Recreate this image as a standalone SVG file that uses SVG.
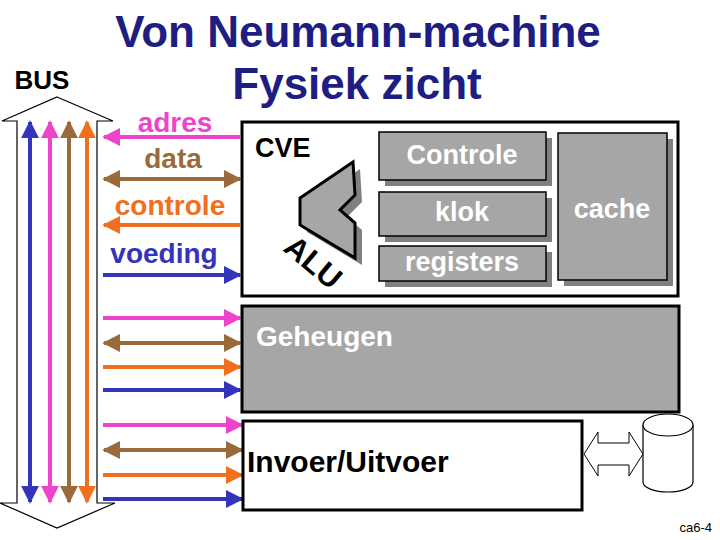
<svg xmlns="http://www.w3.org/2000/svg" width="720" height="540" viewBox="0 0 720 540">
<style>
text{font-family:"Liberation Sans",Arial,sans-serif;font-weight:bold}
.t{fill:#1e1e82;font-size:44px;text-anchor:middle}
.lbl{font-size:28px;text-anchor:middle}
.gb{fill:#a6a6a6;stroke:#000;stroke-width:1.5}
.sh{fill:#808080}
.wt{fill:#fff;font-size:27px;text-anchor:middle}
.p{stroke:#ee44cc;stroke-width:4}
.b{stroke:#9a6a3a;stroke-width:4}
.o{stroke:#f07020;stroke-width:4}
.v{stroke:#3333bb;stroke-width:4}
</style>
<defs>
<marker id="mp" viewBox="0 0 10 10" refX="9" refY="5" markerWidth="4.5" markerHeight="4.5" orient="auto-start-reverse"><path d="M0,0L10,5L0,10z" fill="#ee44cc"/></marker>
<marker id="mb" viewBox="0 0 10 10" refX="9" refY="5" markerWidth="4.5" markerHeight="4.5" orient="auto-start-reverse"><path d="M0,0L10,5L0,10z" fill="#9a6a3a"/></marker>
<marker id="mo" viewBox="0 0 10 10" refX="9" refY="5" markerWidth="4.5" markerHeight="4.5" orient="auto-start-reverse"><path d="M0,0L10,5L0,10z" fill="#f07020"/></marker>
<marker id="mv" viewBox="0 0 10 10" refX="9" refY="5" markerWidth="4.5" markerHeight="4.5" orient="auto-start-reverse"><path d="M0,0L10,5L0,10z" fill="#3333bb"/></marker>
</defs>
<rect width="720" height="540" fill="#fff"/>
<text class="t" x="358" y="47">Von Neumann-machine</text>
<text class="t" x="357" y="99">Fysiek zicht</text>
<text x="42" y="89" font-size="26" text-anchor="middle">BUS</text>

<g id="bus">
<path d="M57,97 L113,121 L97,121 L97,503 L115,503 L57,528 L0,503 L17,503 L17,121 L2,121 Z" fill="#fff" stroke="#000" stroke-width="1.2"/>
<line class="v" x1="30" y1="122" x2="30" y2="502" marker-start="url(#mv)" marker-end="url(#mv)"/>
<line class="p" x1="50" y1="122" x2="50" y2="502" marker-start="url(#mp)" marker-end="url(#mp)"/>
<line class="b" x1="69" y1="122" x2="69" y2="502" marker-start="url(#mb)" marker-end="url(#mb)"/>
<line class="o" x1="87" y1="122" x2="87" y2="502" marker-start="url(#mo)" marker-end="url(#mo)"/>
</g>

<g id="labels">
<text class="lbl" x="175" y="132" fill="#ee44cc">adres</text>
<text class="lbl" x="173" y="168" fill="#9a6a3a">data</text>
<text class="lbl" x="170" y="215" fill="#f07020">controle</text>
<text class="lbl" x="164" y="263" fill="#3333bb">voeding</text>
</g>

<g id="connectors">
<line class="p" x1="240" y1="137" x2="104" y2="137" marker-end="url(#mp)"/>
<line class="b" x1="104" y1="179" x2="240" y2="179" marker-start="url(#mb)" marker-end="url(#mb)"/>
<line class="o" x1="240" y1="225" x2="104" y2="225" marker-end="url(#mo)"/>
<line class="v" x1="103" y1="275" x2="240" y2="275" marker-end="url(#mv)"/>
<line class="p" x1="103" y1="318" x2="240" y2="318" marker-end="url(#mp)"/>
<line class="b" x1="104" y1="343" x2="240" y2="343" marker-start="url(#mb)" marker-end="url(#mb)"/>
<line class="o" x1="103" y1="367" x2="240" y2="367" marker-end="url(#mo)"/>
<line class="v" x1="103" y1="390" x2="240" y2="390" marker-end="url(#mv)"/>
<line class="p" x1="103" y1="425" x2="242" y2="425" marker-end="url(#mp)"/>
<line class="b" x1="104" y1="450" x2="242" y2="450" marker-start="url(#mb)" marker-end="url(#mb)"/>
<line class="o" x1="103" y1="475" x2="242" y2="475" marker-end="url(#mo)"/>
<line class="v" x1="103" y1="499" x2="242" y2="499" marker-end="url(#mv)"/>
<path d="M584,454 L598,432 L598,443 L629,443 L629,432 L643,454 L629,476 L629,465 L598,465 L598,476 Z" fill="#fff" stroke="#000" stroke-width="1"/>
</g>

<g id="cve">
<rect x="242" y="122" width="436" height="174" fill="#fff" stroke="#000" stroke-width="3"/>
<text x="255" y="157" font-size="27">CVE</text>
</g>
<g id="alu">
<path d="M360,169 L307,205 L307,232 L362,265 L362,230 L347,217 L362,202 Z" class="sh"/>
<path d="M353,162 L300,198 L300,225 L355,258 L355,223 L340,210 L355,195 Z" fill="#a6a6a6" stroke="#000" stroke-width="3" stroke-linejoin="miter"/>
<text transform="translate(282,250) rotate(40)" font-size="31">ALU</text>
</g>
<g id="controle"><rect x="385" y="138" width="167" height="48" class="sh"/><rect x="379" y="132" width="167" height="48" class="gb"/><text class="wt" x="462" y="164">Controle</text></g>
<g id="klok"><rect x="385" y="198" width="167" height="44" class="sh"/><rect x="379" y="192" width="167" height="44" class="gb"/><text class="wt" x="462" y="221">klok</text></g>
<g id="registers"><rect x="385" y="252" width="167" height="35" class="sh"/><rect x="379" y="246" width="167" height="35" class="gb"/><text class="wt" x="462" y="271">registers</text></g>
<g id="cache"><rect x="564" y="139" width="109" height="147" class="sh"/><rect x="558" y="133" width="109" height="147" class="gb"/><text class="wt" x="612" y="218">cache</text></g>

<g id="geheugen"><rect x="242" y="306" width="437" height="106" fill="#a6a6a6" stroke="#000" stroke-width="3"/><text x="256" y="346" font-size="28" fill="#fff">Geheugen</text></g>
<g id="io"><rect x="243" y="421" width="339" height="89" fill="#fff" stroke="#000" stroke-width="3"/><text x="247" y="472" font-size="30">Invoer/Uitvoer</text></g>
<g id="disk"><path d="M643,425 L643,482 A25,10 0 0 0 693,482 L693,425" fill="#fff" stroke="#000" stroke-width="1.2"/><ellipse cx="668" cy="425" rx="25" ry="11" fill="#fff" stroke="#000" stroke-width="1.2"/></g>
<text x="712" y="532" font-size="13" text-anchor="end" style="font-weight:normal">ca6-4</text>
</svg>
